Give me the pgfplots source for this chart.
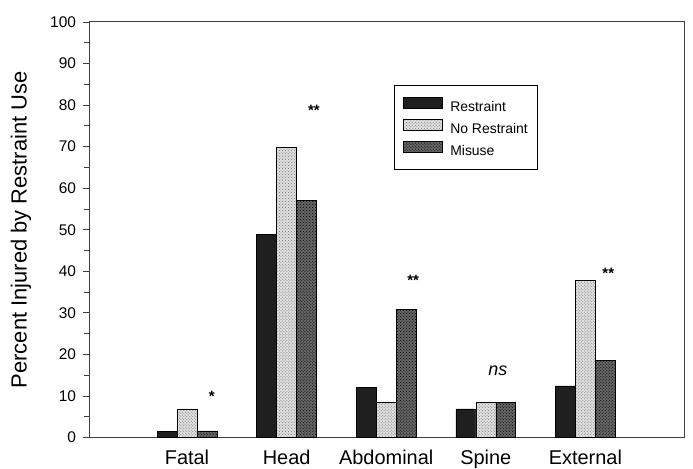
\documentclass[border=0pt]{standalone}
\usepackage{pgfplots}
\pgfplotsset{compat=1.18}
\usepackage{fontspec}
\setmainfont{Liberation Sans}
\usetikzlibrary{patterns}

\pgfplotstableread{
x  restraint norestraint misuse
0  1.4       6.9         1.6
1  48.9      69.9        57.0
2  12.0      8.5         30.9
3  6.9       8.5         8.5
4  12.4      37.8        18.6
}\injury

\definecolor{axisgray}{gray}{0.25}

\begin{document}
\begin{tikzpicture}
\begin{axis}[
  scale only axis,
  width=595bp, height=415.5bp,
  xmin=-0.979, xmax=4.995,
  ymin=0, ymax=100,
  axis line style={axisgray, line width=1bp},
  ytick={0,10,...,100},
  minor ytick={5,15,...,95},
  ytick pos=left,
  tick align=outside,
  major tick length=6bp,
  minor tick length=5bp,
  every tick/.style={axisgray, line width=0.9bp},
  xtick={0,1,2,3,4},
  xticklabels={Fatal,Head,Abdominal,Spine,External},
  xtick style={draw=none},
  xticklabel style={font=\fontsize{20}{24}\selectfont, yshift=-3bp},
  yticklabel style={font=\fontsize{15.5}{18}\selectfont, xshift=-4bp},
  /pgf/number format/assume math mode=true,
  ylabel={Percent Injured by Restraint Use},
  ylabel style={font=\fontsize{22}{26}\selectfont, at={(axis description cs:-0.1151,0.5)}, anchor=center},
  ybar, bar width=0.2,
  legend style={at={(0.5126,0.8472)}, anchor=north west, draw=black, line width=0.8bp,
    font=\fontsize{14}{16}\selectfont, inner xsep=8bp, inner ysep=11bp,
    row sep=4bp, cells={anchor=west},
    /tikz/every odd column/.append style={column sep=6bp}},
  legend image code/.code={\draw[#1, line width=0.4bp] (0bp,-1bp) rectangle (39bp,10bp);},
]
\addplot[draw=black, line width=0.5bp, fill=black!88, bar shift=-0.2] table[x=x,y=restraint]{\injury};
\addplot[draw=black, line width=0.5bp, fill=black!12, postaction={pattern=crosshatch dots, pattern color=black!55}, bar shift=0] table[x=x,y=norestraint]{\injury};
\addplot[draw=black, line width=0.5bp, fill=black!60, postaction={pattern=crosshatch dots, pattern color=black}, bar shift=0.2] table[x=x,y=misuse]{\injury};
\legend{Restraint, No Restraint, Misuse}

\node[font=\fontsize{15}{18}\selectfont\bfseries] at (axis cs:0.25,9.9) {*};
\node[font=\fontsize{15}{18}\selectfont\bfseries] at (axis cs:1.275,78.8) {**};
\node[font=\fontsize{15}{18}\selectfont\bfseries] at (axis cs:2.27,37.7) {**};
\node[font=\fontsize{15}{18}\selectfont\bfseries] at (axis cs:4.23,39.4) {**};
\node[font=\fontsize{18}{22}\selectfont\itshape] at (axis cs:3.12,16.1) {ns};
\end{axis}
\pgfresetboundingbox
\path (-89.5bp,-31.5bp) rectangle (603.5bp,437.5bp);
\end{tikzpicture}
\end{document}
